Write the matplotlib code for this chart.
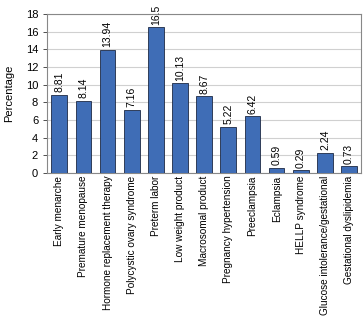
import numpy as np
import matplotlib.pyplot as plt

categories = ["Early menarche", "Premature menopause", "Hormone replacement therapy",
              "Polycystic ovary syndrome", "Preterm labor", "Low weight product",
              "Macrosomal product", "Pregnancy hypertension", "Preeclampsia",
              "Eclampsia", "HELLP syndrome", "Glucose intolerance/gestational",
              "Gestational dyslipidemia"]
values = [8.81, 8.14, 13.94, 7.16, 16.5, 10.13, 8.67, 5.22, 6.42, 0.59, 0.29, 2.24, 0.73]
labels = ["8.81", "8.14", "13.94", "7.16", "16.5", "10.13", "8.67", "5.22", "6.42",
          "0.59", "0.29", "2.24", "0.73"]
yticks = [0, 2, 4, 6, 8, 10, 12, 14, 16, 18]

plt.rcParams['font.family'] = ['Liberation Sans', 'DejaVu Sans']

fig = plt.figure(figsize=(3.63, 3.19), dpi=100)
ax = fig.add_axes([0.13, 0.458, 0.865, 0.498])

x = np.arange(len(categories))
ax.bar(x, values, width=0.65, color="#3f6db6", edgecolor="#1e2a44", linewidth=0.6, zorder=3)
for xi, v, lab in zip(x, values, labels):
    ax.text(xi, v + 0.3, lab, rotation=90, ha="center", va="bottom", fontsize=7.5)

ax.set_xlim(-0.5, len(categories) - 0.5)
ax.set_ylim(0, 18)
ax.set_yticks(yticks)
ax.yaxis.grid(True, color="#d0d0d0", linewidth=0.8, zorder=0)
ax.set_xticks(x)
ax.set_xticklabels(categories, rotation=90, fontsize=7.2)
ax.tick_params(axis="y", labelsize=8, length=3, width=0.6, colors="#333333", labelcolor="black")
ax.tick_params(axis="x", length=0, pad=2)
ax.set_ylabel("Percentage", fontsize=8, labelpad=8)
for s in ax.spines.values():
    s.set_color("#888888")
    s.set_linewidth(0.8)

fig.savefig("out.png", dpi=100)
